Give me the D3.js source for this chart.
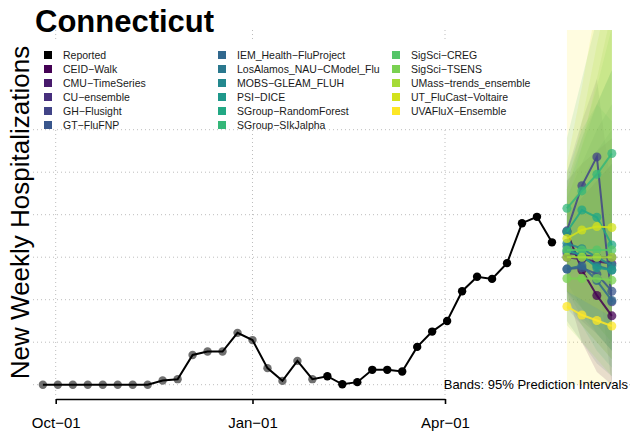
<!DOCTYPE html>
<html>
<head>
<meta charset="utf-8">
<script src="https://cdn.jsdelivr.net/npm/d3@7"></script>
<style>
  body { margin: 0; background: #fff; }
  svg { font-family: "Liberation Sans", Arial, Helvetica, sans-serif; display: block; }
</style>
</head>
<body>
<div id="chart"></div>
<script>
// reported weekly data (Sunday dates)
var reportedDates = [
  '2022-09-25','2022-10-02','2022-10-09','2022-10-16','2022-10-23','2022-10-30',
  '2022-11-06','2022-11-13','2022-11-20','2022-11-27','2022-12-04','2022-12-11',
  '2022-12-18','2022-12-25','2023-01-01','2023-01-08','2023-01-15','2023-01-22',
  '2023-01-29','2023-02-05','2023-02-12','2023-02-19','2023-02-26','2023-03-05',
  '2023-03-12','2023-03-19','2023-03-26','2023-04-02','2023-04-09','2023-04-16',
  '2023-04-23','2023-04-30','2023-05-07','2023-05-14','2023-05-21'
]
var reportedValues = [
  0, 0, 0, 0, 0, 0, 0, 0, 1.0, 1.3, 7.0, 7.8, 7.8, 12.2, 10.5, 3.9, 0.9, 5.6,
  1.3, 2.0, 0.1, 0.6, 3.5, 3.5, 3.1, 8.9, 12.5, 15.0, 22.0, 25.4, 24.9, 28.6,
  38.0, 39.5, 33.5
]
var grayBefore = '2023-02-01'   // older points drawn in gray

var forecastDates = ['2023-05-28', '2023-06-04', '2023-06-11', '2023-06-18']

var models = [
  'CEID-Walk', 'CMU-TimeSeries', 'CU-ensemble', 'GH-Flusight', 'GT-FluFNP',
  'IEM_Health-FluProject', 'LosAlamos_NAU-CModel_Flu', 'MOBS-GLEAM_FLUH',
  'PSI-DICE', 'SGroup-RandomForest', 'SGroup-SIkJalpha', 'SigSci-CREG',
  'SigSci-TSENS', 'UMass-trends_ensemble', 'UT_FluCast-Voltaire', 'UVAFluX-Ensemble'
]
var medians = [
  [36.0, 27.0, 21.0, 16.2],
  [30.0, 29.5, 29.0, 28.5],
  [31.0, 30.5, 30.0, 30.0],
  [36.2, 46.8, 53.6, 19.5],
  [27.2, 27.5, 26.0, 22.0],
  [27.2, 28.0, 24.5, 19.8],
  [32.5, 30.0, 28.0, 27.0],
  [33.3, 32.0, 30.0, 28.0],
  [31.5, 30.5, 27.5, 27.0],
  [36.0, 41.1, 39.4, 32.9],
  [41.5, 45.6, 49.5, 54.4],
  [31.7, 31.7, 31.7, 31.7],
  [25.0, 25.0, 25.0, 24.6],
  [30.0, 30.0, 30.0, 30.0],
  [34.4, 36.4, 37.2, 37.0],
  [18.4, 16.4, 15.1, 13.8]
]
var lower95 = [
  [22, 10, 3, 0], [20, 15, 12, 8], [22, 18, 14, 10], [25, 30, 28, 0],
  [18, 14, 10, 6], [15, 10, 5, 2], [24, 18, 12, 8], [22, 16, 12, 8],
  [20, 14, 8, 4], [25, 28, 24, 18], [30, 30, 28, 30], [22, 18, 14, 10],
  [14, 10, 6, 2], [20, 14, 10, 6], [22, 20, 18, 16], [0, 0, 0, 0]
]
var upper95 = [
  [48, 52, 55, 58], [42, 46, 50, 55], [40, 44, 48, 52], [50, 62, 72, 45],
  [38, 44, 48, 52], [40, 48, 55, 60], [44, 52, 60, 66], [48, 58, 66, 74],
  [46, 56, 66, 74], [50, 60, 66, 62], [58, 72, 86, 98], [46, 58, 70, 84],
  [42, 56, 72, 88], [46, 62, 80, 96], [52, 70, 90, 105], [90, 95, 100, 100]
]

var tickDates = ['2022-10-01', '2023-01-01', '2023-04-01']
var tickLabels = ['Oct\u221201', 'Jan\u221201', 'Apr\u221201']
var gridValues = [0, 10, 20, 30, 40, 50, 60]

var width = 632
var height = 433
var plotTop = 30
var plotBottom = 397
var plotLeft = 33

var parse = d3.utcParse('%Y-%m-%d')
var colors = d3.quantize(d3.interpolateViridis, models.length)

var x = d3.scaleUtc()
  .domain([parse('2022-10-01'), parse('2023-04-01')])
  .range([55.7, 445])
var y = d3.scaleLinear().domain([0, 60]).range([384.7, 129.7])

var svg = d3.select('#chart').append('svg')
  .attr('width', width)
  .attr('height', height)

svg.append('defs').append('clipPath').attr('id', 'plotclip')
  .append('rect')
  .attr('x', plotLeft).attr('y', plotTop)
  .attr('width', width - plotLeft).attr('height', plotBottom - plotTop)

// grid
svg.append('g').selectAll('line').data(gridValues).enter().append('line')
  .attr('x1', plotLeft).attr('x2', width)
  .attr('y1', function(d) { return y(d) }).attr('y2', function(d) { return y(d) })
  .attr('stroke', '#bdbdbd').attr('stroke-dasharray', '1,3')
svg.append('g').selectAll('line').data(tickDates).enter().append('line')
  .attr('x1', function(d) { return x(parse(d)) }).attr('x2', function(d) { return x(parse(d)) })
  .attr('y1', plotTop).attr('y2', plotBottom)
  .attr('stroke', '#bdbdbd').attr('stroke-dasharray', '1,3')

// prediction bands
var fDates = forecastDates.map(parse)
var band = d3.area()
  .x(function(d, i) { return x(fDates[i]) })
  .y0(function(d) { return y(d[0]) })
  .y1(function(d) { return y(d[1]) })

var bands = svg.append('g').attr('clip-path', 'url(#plotclip)')
models.forEach(function(m, k) {
  var pts = lower95[k].map(function(lo, i) { return [lo, upper95[k][i]] })
  bands.append('path')
    .attr('d', band(pts))
    .attr('fill', colors[k])
    .attr('fill-opacity', 0.14)
})

// reported
var reported = reportedDates.map(function(d, i) {
  return { date: parse(d), value: reportedValues[i] }
})
var gray = reported.filter(function(d) { return d.date < parse(grayBefore) })
var black = reported.filter(function(d) { return d.date >= parse(grayBefore) })

svg.append('g').selectAll('circle').data(gray).enter().append('circle')
  .attr('cx', function(d) { return x(d.date) })
  .attr('cy', function(d) { return y(d.value) })
  .attr('r', 4.2).attr('fill', '#707070')

svg.append('path')
  .datum(reported)
  .attr('fill', 'none').attr('stroke', 'black').attr('stroke-width', 2)
  .attr('d', d3.line()
    .x(function(d) { return x(d.date) })
    .y(function(d) { return y(d.value) }))

svg.append('g').selectAll('circle').data(black).enter().append('circle')
  .attr('cx', function(d) { return x(d.date) })
  .attr('cy', function(d) { return y(d.value) })
  .attr('r', 4.2).attr('fill', 'black')

// forecasts
var fLine = d3.line()
  .x(function(d, i) { return x(fDates[i]) })
  .y(function(d) { return y(d) })
var fc = svg.append('g').attr('clip-path', 'url(#plotclip)')
models.forEach(function(m, k) {
  fc.append('path')
    .attr('d', fLine(medians[k]))
    .attr('fill', 'none').attr('stroke', colors[k])
    .attr('stroke-width', 2).attr('stroke-opacity', 0.85)
  fc.selectAll(null).data(medians[k]).enter().append('circle')
    .attr('cx', function(d, i) { return x(fDates[i]) })
    .attr('cy', function(d) { return y(d) })
    .attr('r', 4.5).attr('fill', colors[k]).attr('fill-opacity', 0.75)
})

// x axis
var xAxis = d3.axisBottom(x)
  .tickValues(tickDates.map(parse))
  .tickFormat(function(d, i) { return tickLabels[i] })
  .tickSize(5).tickSizeOuter(0).tickPadding(13)
var ax = svg.append('g').attr('transform', 'translate(0,399)').call(xAxis)
ax.select('.domain').attr('stroke-width', 1.6)
ax.selectAll('.tick line').attr('stroke-width', 1.6)
ax.selectAll('.tick text')
  .attr('font-size', '15px').attr('fill', 'black')
  .style('font-family', '"Liberation Sans", Arial, sans-serif')

// legend with white background
var legend = svg.append('g')
legend.append('rect')
  .attr('x', 38).attr('y', 39).attr('width', 500).attr('height', 88)
  .attr('fill', 'white')
var legendItems = ['Reported'].concat(models)
var legendColors = ['black'].concat(colors)
legendItems.forEach(function(name, i) {
  var col = Math.floor(i / 6)
  var row = i % 6
  var lx = [44, 218, 392][col]
  var ly = 55 + row * 14
  legend.append('rect')
    .attr('x', lx).attr('y', ly - 4).attr('width', 8).attr('height', 8)
    .attr('fill', legendColors[i])
  legend.append('text')
    .attr('x', lx + 19).attr('y', ly + 3.7)
    .attr('font-size', '10.5px').attr('fill', '#1a1a1a')
    .text(name.replace(/-/g, '\u2212'))
})

// titles
svg.append('text')
  .attr('x', 35).attr('y', 31.5)
  .attr('font-size', '31px').attr('font-weight', 'bold')
  .text('Connecticut')

svg.append('text')
  .attr('transform', 'translate(29,212.5) rotate(-90)')
  .attr('text-anchor', 'middle')
  .attr('font-size', '26px')
  .text('New Weekly Hospitalizations')

svg.append('text')
  .attr('x', 628).attr('y', 388.5)
  .attr('text-anchor', 'end')
  .attr('font-size', '13px')
  .text('Bands: 95% Prediction Intervals')
</script>
</body>
</html>
